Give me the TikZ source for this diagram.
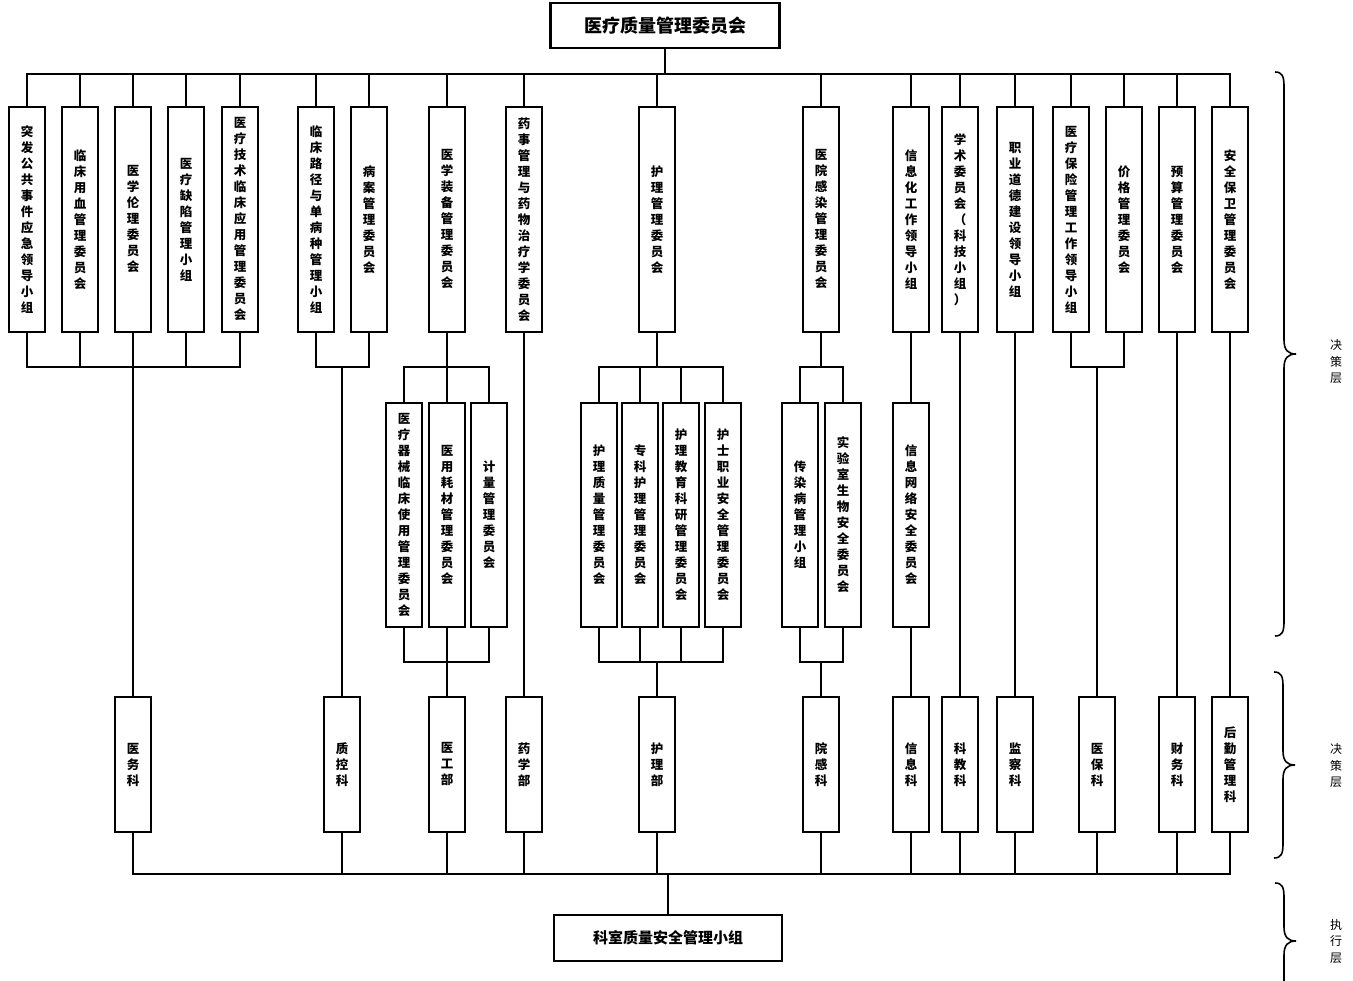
\documentclass[tikz,border=0pt]{standalone}
\usepackage{fontspec}
\setmainfont{Noto Sans CJK SC}
\begin{document}
\begin{tikzpicture}[x=1pt,y=-1pt,
  box/.style={draw, line width=2.2pt, inner sep=0pt, align=center, font=\bfseries\fontsize{12.5}{16}\selectfont},
  tbox/.style={box, minimum width=36pt, minimum height=225pt},
  sbox/.style={box, minimum width=36pt, minimum height=224pt},
  lbox/.style={box, minimum width=36pt, minimum height=135pt},
  conn/.style={line width=1.7pt},
  lab/.style={align=center, font=\fontsize{12}{16.5}\selectfont, inner sep=0pt},
  bracestyle/.style={line width=1.6pt}]
\useasboundingbox (0,0) rectangle (1353,981);
\coordinate (busy) at (0,74);
\coordinate (g1y) at (0,367);
\coordinate (g2y) at (0,662);
\coordinate (bby) at (0,874);

% title and bottom
\node[box, minimum width=229pt, minimum height=45pt, font=\bfseries\fontsize{18}{20}\selectfont] (top) at (665,25.5) {医疗质量管理委员会};
\node[box, minimum width=228pt, minimum height=46pt, font=\bfseries\fontsize{15}{18}\selectfont] (bot) at (668,938) {科室质量安全管理小组};

% top-level boxes (y 107-332)
\node[tbox] (b1) at (27,219.5) {突\\发\\公\\共\\事\\件\\应\\急\\领\\导\\小\\组};
\node[tbox] (b2) at (80,219.5) {临\\床\\用\\血\\管\\理\\委\\员\\会};
\node[tbox] (b3) at (133,219.5) {医\\学\\伦\\理\\委\\员\\会};
\node[tbox] (b4) at (186,219.5) {医\\疗\\缺\\陷\\管\\理\\小\\组};
\node[tbox] (b5) at (240,219.5) {医\\疗\\技\\术\\临\\床\\应\\用\\管\\理\\委\\员\\会};
\node[tbox] (b6) at (316,219.5) {临\\床\\路\\径\\与\\单\\病\\种\\管\\理\\小\\组};
\node[tbox] (b7) at (369,219.5) {病\\案\\管\\理\\委\\员\\会};
\node[tbox] (b8) at (447,219.5) {医\\学\\装\\备\\管\\理\\委\\员\\会};
\node[tbox] (b9) at (524,219.5) {药\\事\\管\\理\\与\\药\\物\\治\\疗\\学\\委\\员\\会};
\node[tbox] (b10) at (657,219.5) {护\\理\\管\\理\\委\\员\\会};
\node[tbox] (b11) at (821,219.5) {医\\院\\感\\染\\管\\理\\委\\员\\会};
\node[tbox] (b12) at (911,219.5) {信\\息\\化\\工\\作\\领\\导\\小\\组};
\node[tbox] (b13) at (960,219.5) {学\\术\\委\\员\\会\\（\\科\\技\\小\\组\\）};
\node[tbox] (b14) at (1015,219.5) {职\\业\\道\\德\\建\\设\\领\\导\\小\\组};
\node[tbox] (b15) at (1071,219.5) {医\\疗\\保\\险\\管\\理\\工\\作\\领\\导\\小\\组};
\node[tbox] (b16) at (1124,219.5) {价\\格\\管\\理\\委\\员\\会};
\node[tbox] (b17) at (1177,219.5) {预\\算\\管\\理\\委\\员\\会};
\node[tbox] (b18) at (1230,219.5) {安\\全\\保\\卫\\管\\理\\委\\员\\会};

% sub boxes (y 403-627)
\node[sbox] (s1) at (404,515) {医\\疗\\器\\械\\临\\床\\使\\用\\管\\理\\委\\员\\会};
\node[sbox] (s2) at (447,515) {医\\用\\耗\\材\\管\\理\\委\\员\\会};
\node[sbox] (s3) at (489,515) {计\\量\\管\\理\\委\\员\\会};
\node[sbox] (n1) at (599,515) {护\\理\\质\\量\\管\\理\\委\\员\\会};
\node[sbox] (n2) at (640,515) {专\\科\\护\\理\\管\\理\\委\\员\\会};
\node[sbox] (n3) at (681,515) {护\\理\\教\\育\\科\\研\\管\\理\\委\\员\\会};
\node[sbox] (n4) at (723,515) {护\\士\\职\\业\\安\\全\\管\\理\\委\\员\\会};
\node[sbox] (i1) at (800,515) {传\\染\\病\\管\\理\\小\\组};
\node[sbox] (i2) at (843,515) {实\\验\\室\\生\\物\\安\\全\\委\\员\\会};
\node[sbox] (x1) at (911,515) {信\\息\\网\\络\\安\\全\\委\\员\\会};

% lower boxes (y 697-832)
\node[lbox] (l1) at (133,764.5) {医\\务\\科};
\node[lbox] (l2) at (342,764.5) {质\\控\\科};
\node[lbox] (l3) at (447,764.5) {医\\工\\部};
\node[lbox] (l4) at (524,764.5) {药\\学\\部};
\node[lbox] (l5) at (657,764.5) {护\\理\\部};
\node[lbox] (l6) at (821,764.5) {院\\感\\科};
\node[lbox] (l7) at (911,764.5) {信\\息\\科};
\node[lbox] (l8) at (960,764.5) {科\\教\\科};
\node[lbox] (l9) at (1015,764.5) {监\\察\\科};
\node[lbox] (l10) at (1097,764.5) {医\\保\\科};
\node[lbox] (l11) at (1177,764.5) {财\\务\\科};
\node[lbox] (l12) at (1230,764.5) {后\\勤\\管\\理\\科};

% top bus
\draw[conn] (top.south) -- (top.south |- busy);
\draw[conn] (b1.north) |- (b18.north |- busy) -- (b18.north);
\foreach \n in {b2,b3,b4,b5,b6,b7,b8,b9,b10,b11,b12,b13,b14,b15,b16,b17}
  \draw[conn] (\n.north) -- (\n.north |- busy);

% group 1
\draw[conn] (b1.south) |- (b5.south |- g1y) -- (b5.south);
\draw[conn] (b2.south) -- (b2.south |- g1y);
\draw[conn] (b4.south) -- (b4.south |- g1y);
\draw[conn] (b3.south) -- (l1.north);
% group 2
\draw[conn] (b6.south) |- (b7.south |- g1y) -- (b7.south);
\draw[conn] (l2.north |- g1y) -- (l2.north);
% medical equipment
\draw[conn] (b8.south) -- (s2.north);
\draw[conn] (s1.north) |- (s3.north |- g1y) -- (s3.north);
\draw[conn] (s1.south) |- (s3.south |- g2y) -- (s3.south);
\draw[conn] (s2.south) -- (l3.north);
% pharmacy
\draw[conn] (b9.south) -- (l4.north);
% nursing
\draw[conn] (b10.south) -- (b10.south |- g1y);
\draw[conn] (n1.north) |- (n4.north |- g1y) -- (n4.north);
\draw[conn] (n2.north) -- (n2.north |- g1y);
\draw[conn] (n3.north) -- (n3.north |- g1y);
\draw[conn] (n1.south) |- (n4.south |- g2y) -- (n4.south);
\draw[conn] (n2.south) -- (n2.south |- g2y);
\draw[conn] (n3.south) -- (n3.south |- g2y);
\draw[conn] (l5.north) -- (l5.north |- g2y);
% infection
\draw[conn] (b11.south) -- (b11.south |- g1y);
\draw[conn] (i1.north) |- (i2.north |- g1y) -- (i2.north);
\draw[conn] (i1.south) |- (i2.south |- g2y) -- (i2.south);
\draw[conn] (l6.north) -- (l6.north |- g2y);
% information
\draw[conn] (b12.south) -- (x1.north);
\draw[conn] (x1.south) -- (l7.north);
\draw[conn] (b13.south) -- (l8.north);
\draw[conn] (b14.south) -- (l9.north);
\draw[conn] (b15.south) |- (b16.south |- g1y) -- (b16.south);
\draw[conn] (l10.north |- g1y) -- (l10.north);
\draw[conn] (b17.south) -- (l11.north);
\draw[conn] (b18.south) -- (l12.north);

% bottom bus
\draw[conn] (l1.south) |- (l12.south |- bby) -- (l12.south);
\foreach \n in {l2,l3,l4,l5,l6,l7,l8,l9,l10,l11}
  \draw[conn] (\n.south) -- (\n.south |- bby);
\draw[conn] (bot.north) -- (bot.north |- bby);

% braces
\draw[bracestyle] (1275,72) .. controls (1282,72) and (1284,76) .. (1284,86) -- (1284,340)
  .. controls (1284,350) and (1288,354) .. (1296,354)
  .. controls (1288,354) and (1284,358) .. (1284,368) -- (1284,622)
  .. controls (1284,632) and (1282,636) .. (1275,636);
\draw[bracestyle] (1274,672) .. controls (1281,672) and (1283,676) .. (1283,686) -- (1283,751)
  .. controls (1283,761) and (1287,765) .. (1295,765)
  .. controls (1287,765) and (1283,769) .. (1283,779) -- (1283,844)
  .. controls (1283,854) and (1281,858) .. (1274,858);
\draw[bracestyle] (1275,883) .. controls (1282,883) and (1284,887) .. (1284,897) -- (1284,927)
  .. controls (1284,937) and (1288,941) .. (1296,941)
  .. controls (1288,941) and (1284,945) .. (1284,955) -- (1284,981);

\node[lab] (L1) at (1336,362) {决\\策\\层};
\node[lab] (L2) at (1336,766) {决\\策\\层};
\node[lab] (L3) at (1336,941) {执\\行\\层};
\end{tikzpicture}
\end{document}
